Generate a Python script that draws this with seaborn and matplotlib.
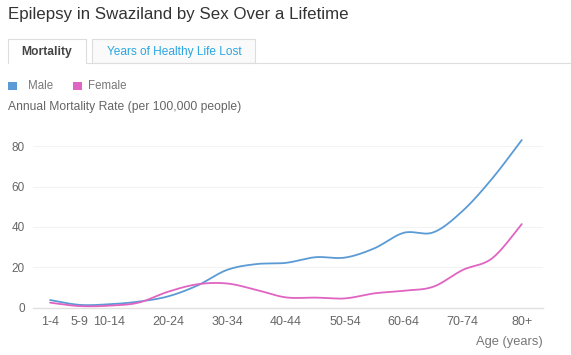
import numpy as np
import pandas as pd
import matplotlib
matplotlib.use("Agg")
import matplotlib.pyplot as plt
import seaborn as sns
from matplotlib.patches import Rectangle
from matplotlib.lines import Line2D

# ---- data ----
age_groups = ["1-4", "5-9", "10-14", "15-19", "20-24", "25-29", "30-34", "35-39",
              "40-44", "45-49", "50-54", "55-59", "60-64", "65-69", "70-74", "75-79", "80+"]
age_pos = [0, 5, 10, 15, 20, 25, 30, 35, 40, 45, 50, 55, 60, 65, 70, 75, 80]
male = [3.8, 1.4, 1.7, 3.0, 5.6, 11.0, 18.7, 21.6, 22.2, 25.0, 24.8, 29.4, 37.1, 37.3, 48.0, 64.0, 83.0]
female = [2.5, 0.8, 1.0, 2.5, 7.9, 11.6, 12.0, 8.8, 5.1, 5.0, 4.6, 7.1, 8.4, 10.4, 18.7, 24.5, 41.4]
tick_labels = ["1-4", "5-9", "10-14", "20-24", "30-34", "40-44", "50-54", "60-64", "70-74", "80+"]
tick_pos = [0, 5, 10, 20, 30, 40, 50, 60, 70, 80]
y_ticks = [0, 20, 40, 60, 80]

MALE_C = "#5b9bd5"
FEMALE_C = "#e064c2"


def smooth(xs, ys, n=20, k=1.0 / 6):
    """Catmull-Rom style spline through the data points (display smoothing)."""
    xs = np.asarray(xs, float)
    ys = np.asarray(ys, float)
    px = np.concatenate([[xs[0]], xs, [xs[-1]]])
    py = np.concatenate([[ys[0]], ys, [ys[-1]]])
    outx, outy = [], []
    t = np.linspace(0, 1, n, endpoint=False)
    for i in range(1, len(px) - 2):
        p0 = np.array([px[i], py[i]])
        p3 = np.array([px[i + 1], py[i + 1]])
        c1 = p0 + (np.array([px[i + 1], py[i + 1]]) - np.array([px[i - 1], py[i - 1]])) * k
        c2 = p3 - (np.array([px[i + 2], py[i + 2]]) - np.array([px[i], py[i]])) * k
        for tt in t:
            b = ((1 - tt) ** 3) * p0 + 3 * ((1 - tt) ** 2) * tt * c1 + 3 * (1 - tt) * tt ** 2 * c2 + tt ** 3 * p3
            outx.append(b[0])
            outy.append(b[1])
    outx.append(xs[-1])
    outy.append(ys[-1])
    return np.array(outx), np.array(outy)


mx, my = smooth(age_pos, male)
fx, fy = smooth(age_pos, female)
df = pd.concat([
    pd.DataFrame({"age": mx, "rate": my, "sex": "Male", "order": np.arange(len(mx))}),
    pd.DataFrame({"age": fx, "rate": fy, "sex": "Female", "order": np.arange(len(fx))}),
])

sns.set_theme(style="white")
plt.rcParams["font.family"] = ["Liberation Sans", "DejaVu Sans"]

W, H = 571, 355
fig = plt.figure(figsize=(W / 100, H / 100), dpi=100)


def fx_(x):
    return x / W


def fy_(y):
    return 1 - y / H


ax_left, ax_right, ax_top, ax_bottom = 33, 543, 125.9, 307.7
ax = fig.add_axes([fx_(ax_left), fy_(ax_bottom), (ax_right - ax_left) / W, (ax_bottom - ax_top) / H])

sns.lineplot(data=df, x="age", y="rate", hue="sex", palette={"Male": MALE_C, "Female": FEMALE_C},
             hue_order=["Male", "Female"], estimator=None, sort=False, units="sex",
             linewidth=1.3, legend=False, ax=ax)

ax.set_xlim(-2.9, 83.6)
ax.set_ylim(0, 90)
ax.set_yticks(y_ticks)
ax.set_yticklabels([str(v) for v in y_ticks], color="#666666", fontsize=8.5)
ax.set_xticks(tick_pos)
ax.set_xticklabels(tick_labels, color="#666666", fontsize=9)
ax.set_xlabel("")
ax.set_ylabel("")
for s in ["top", "right", "left"]:
    ax.spines[s].set_visible(False)
ax.spines["bottom"].set_color("#e0e0e0")
ax.spines["bottom"].set_linewidth(1)
ax.grid(axis="y", color="#f3f3f3", linewidth=0.8)
ax.set_axisbelow(True)
ax.tick_params(axis="x", length=4, color="#e0e0e0", pad=2)
ax.tick_params(axis="y", length=0, pad=6)
for lbl in ax.get_yticklabels():
    lbl.set_horizontalalignment("right")

# ---- header texts ----
fig.text(fx_(8), fy_(15), "Epilepsy in Swaziland by Sex Over a Lifetime", fontsize=12.2,
         color="#333333", va="center", ha="left")

# tabs
line_c = "#dddddd"
fig.add_artist(Rectangle((fx_(92), fy_(63)), (255 - 92) / W, (63 - 39) / H, transform=fig.transFigure,
                         facecolor="#fafafa", edgecolor=line_c, linewidth=0.8))
fig.add_artist(Line2D([fx_(8), fx_(8), fx_(86), fx_(86)], [fy_(63), fy_(39), fy_(39), fy_(63)],
                      transform=fig.transFigure, color=line_c, linewidth=0.8))
fig.add_artist(Line2D([fx_(86), fx_(571)], [fy_(63), fy_(63)], transform=fig.transFigure,
                      color=line_c, linewidth=0.8))
fig.text(fx_(47), fy_(52.5), "Mortality", fontsize=8.7, fontweight="bold", color="#444444",
         ha="center", va="center")
fig.text(fx_(174), fy_(52.5), "Years of Healthy Life Lost", fontsize=8.6, color="#2aa6e0",
         ha="center", va="center")

# legend
fig.add_artist(Rectangle((fx_(8), fy_(90)), 9 / W, 8 / H, transform=fig.transFigure,
                         facecolor=MALE_C, edgecolor="none"))
fig.text(fx_(28), fy_(86), "Male", fontsize=8.3, color="#777777", ha="left", va="center")
fig.add_artist(Rectangle((fx_(73), fy_(90)), 9 / W, 8 / H, transform=fig.transFigure,
                         facecolor=FEMALE_C, edgecolor="none"))
fig.text(fx_(88), fy_(86), "Female", fontsize=8.3, color="#777777", ha="left", va="center")

fig.text(fx_(8), fy_(107), "Annual Mortality Rate (per 100,000 people)", fontsize=8.7,
         color="#666666", ha="left", va="center")
fig.text(fx_(543), fy_(342), "Age (years)", fontsize=9.3, color="#777777", ha="right", va="center")

fig.savefig("out.png", dpi=100, facecolor="white")
